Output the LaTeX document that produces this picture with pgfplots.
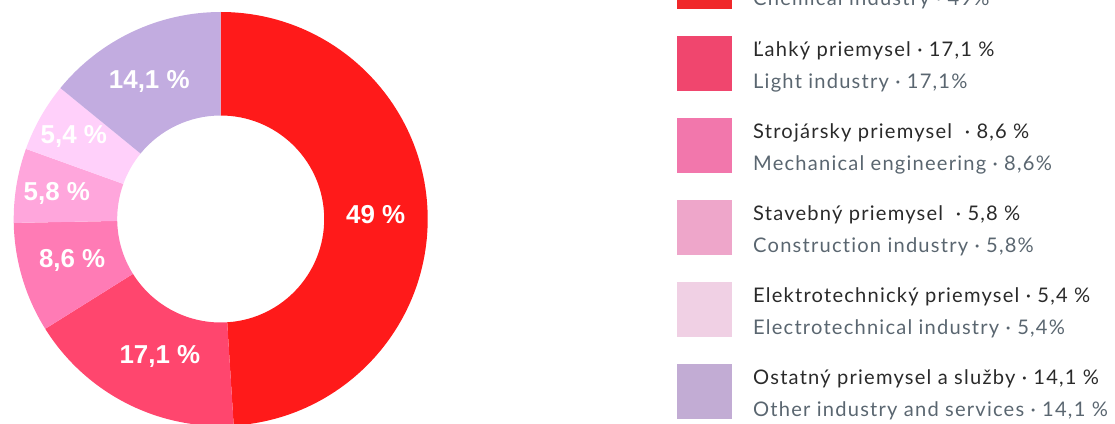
\documentclass[border=0pt]{standalone}
\usepackage{fontspec}
\setmainfont{Lato}[LetterSpace=6,Ligatures={NoCommon}]
\newfontfamily\labfont{Liberation Sans}
\usepackage{pgfplots}
\pgfplotsset{compat=1.18}
\usetikzlibrary{calc}

\definecolor{cA}{HTML}{FF1A1A}
\definecolor{cB}{HTML}{FF466E}
\definecolor{cC}{HTML}{FF7BB5}
\definecolor{cD}{HTML}{FFA6DC}
\definecolor{cE}{HTML}{FFD0FA}
\definecolor{cF}{HTML}{C2ACE0}
\definecolor{lA}{HTML}{F0282A}
\definecolor{lB}{HTML}{F0466E}
\definecolor{lC}{HTML}{F277AC}
\definecolor{lD}{HTML}{EEA6CA}
\definecolor{lE}{HTML}{F0D0E4}
\definecolor{lF}{HTML}{C2ACD4}
\definecolor{txtdark}{HTML}{2A2A2A}
\definecolor{txtgray}{HTML}{5A6670}

% shares in percent
\def\vA{49}
\def\vB{17.1}
\def\vC{8.6}
\def\vD{5.8}
\def\vE{5.4}
\def\vF{14.1}

\pgfmathsetmacro\aA{90}
\pgfmathsetmacro\aB{\aA-3.6*\vA}
\pgfmathsetmacro\aC{\aB-3.6*\vB}
\pgfmathsetmacro\aD{\aC-3.6*\vC}
\pgfmathsetmacro\aE{\aD-3.6*\vD}
\pgfmathsetmacro\aF{\aE-3.6*\vE}
\pgfmathsetmacro\aG{\aF-3.6*\vF}

\newcommand\seg[3]{%
  \fill[#3] ($(axis cs:0,0)+(#1:207bp)$) arc[start angle=#1,end angle=#2,radius=207bp]
    -- ($(axis cs:0,0)+(#2:103.5bp)$) arc[start angle=#2,end angle=#1,radius=103.5bp] -- cycle;}
\newcommand\seglabel[4]{%
  \pgfmathsetmacro\mid{(#1+#2)/2}%
  \node[text=white,font=\labfont\bfseries\fontsize{26}{28}\selectfont,#4] at (\mid:155bp) {#3};}

\newcommand\legentry[5]{%
  \fill[#2] (677,{423-#1-55}) rectangle (732,{423-#1});
  \node[anchor=base west,inner sep=0pt,text=txtdark,font=\fontsize{20.2}{22}\selectfont] at (753,{423-#1-20}) {#3};
  \node[anchor=base west,inner sep=0pt,text=txtgray,font=\fontsize{20.2}{22}\selectfont] at (753,{423-#1-52}) {#4};}

\begin{document}
\begin{tikzpicture}[x=1bp,y=1bp]
\path[use as bounding box] (0,0) rectangle (1115,423);
\clip (0,0) rectangle (1115,423);
\begin{axis}[at={(220.7bp,204bp)}, anchor=center, width=434.7bp, height=434.7bp,
  scale only axis, hide axis, xmin=-1.05, xmax=1.05, ymin=-1.05, ymax=1.05,
  clip=false]
\seg{\aA}{\aB}{cA}
\seg{\aB}{\aC}{cB}
\seg{\aC}{\aD}{cC}
\seg{\aD}{\aE}{cD}
\seg{\aE}{\aF}{cE}
\seg{\aF}{\aG}{cF}
\end{axis}
\begin{scope}[shift={(220.7,204)}]
\seglabel{\aA}{\aB}{49 \%}{}
\seglabel{\aB}{\aC}{17,1 \%}{xshift=10bp}
\seglabel{\aC}{\aD}{8,6 \%}{yshift=3bp}
\seglabel{\aD}{\aE}{5,8 \%}{xshift=-11bp}
\seglabel{\aE}{\aF}{5,4 \%}{xshift=-12bp,yshift=6bp}
\seglabel{\aF}{\aG}{14,1 \%}{xshift=-5bp,yshift=-3bp}
\end{scope}
\legentry{-46}{lA}{Chemický priemysel · 49 \%}{Chemical industry · 49\%}{}
\legentry{36}{lB}{Ľahký priemysel · 17,1 \%}{Light industry · 17,1\%}{}
\legentry{118}{lC}{Strojársky priemysel \ · 8,6 \%}{Mechanical engineering · 8,6\%}{}
\legentry{200}{lD}{Stavebný priemysel \ · 5,8 \%}{Construction industry · 5,8\%}{}
\legentry{282}{lE}{Elektrotechnický priemysel · 5,4 \%}{Electrotechnical industry · 5,4\%}{}
\legentry{364}{lF}{Ostatný priemysel a služby · 14,1 \%}{Other industry and services · 14,1 \%}{}
\end{tikzpicture}
\end{document}
